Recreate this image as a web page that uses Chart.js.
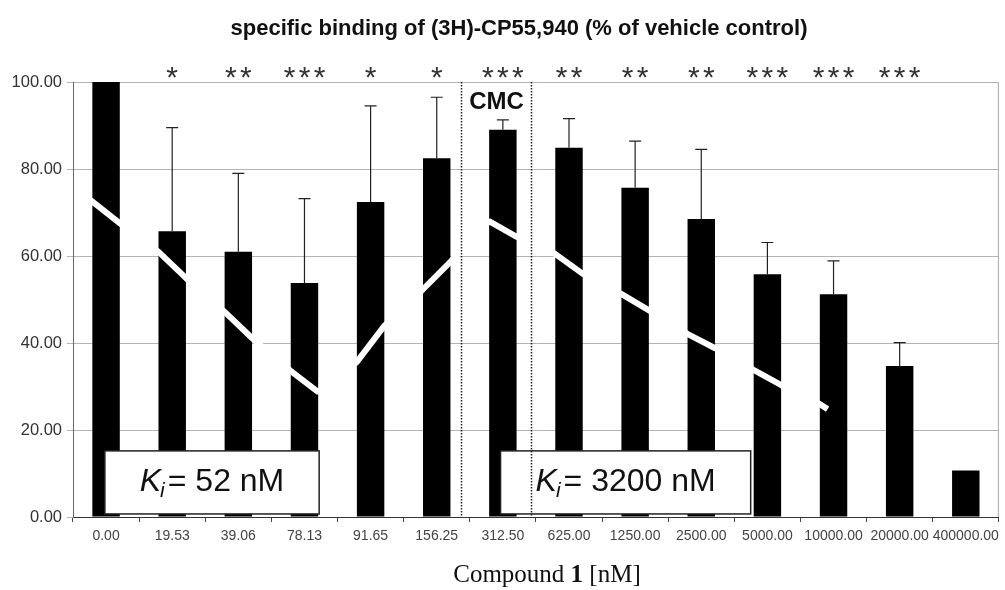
<!DOCTYPE html>
<html>
<head>
<meta charset="utf-8">
<script src="https://cdn.jsdelivr.net/npm/chart.js@4.4.0/dist/chart.umd.min.js"></script>
<style>
  html, body { margin: 0; padding: 0; background: #fff; }
</style>
</head>
<body>
<canvas id="myChart" width="1005" height="590"></canvas>
<script>
// concentrations of compound 1 [nM]
const doses = ['0.00', '19.53', '39.06', '78.13', '91.65', '156.25', '312.50', '625.00',
  '1250.00', '2500.00', '5000.00', '10000.00', '20000.00', '400000.00']
// specific binding, % of vehicle control
const binding = [100, 65.7, 61.0, 53.8, 72.4, 82.5, 89.0, 84.9, 75.7, 68.5, 55.8, 51.2, 34.7, 10.7]
// top of the error bar (mean + SD)
const errorTop = [null, 89.5, 79.0, 73.2, 94.5, 96.5, 91.3, 91.6, 86.4, 84.5, 63.1, 58.9, 40.1, null]
const stars = ['', '*', '**', '***', '*', '*', '***', '**', '**', '**', '***', '***', '***', '']
// white fit line, x in category units
const curveX = [-0.35, 0.21, 0.79, 1.21, 1.79, 2.21, 2.79, 3.21, 3.79, 4.21, 4.79, 5.21,
  5.79, 6.21, 6.79, 7.21, 7.79, 8.21, 8.79, 9.21, 9.79, 10.21, 10.79, 10.91]
const curveY = [74.2, 67.5, 61.0, 54.9, 47.2, 41.1, 33.6, 28.7, 35.6, 44.0, 52.3, 58.7,
  68.0, 64.4, 60.5, 55.9, 51.3, 47.5, 42.1, 38.8, 33.8, 30.3, 26.0, 24.8]

const SANS = 'Liberation Sans, Arial, sans-serif'
const SERIF = 'Liberation Serif, Times New Roman, serif'
Chart.defaults.font.family = SANS

function drawKi(ctx, cx, baseline, rest) {
  ctx.textAlign = 'left'
  ctx.textBaseline = 'alphabetic'
  ctx.fillStyle = '#111'
  ctx.font = 'italic 32px ' + SANS
  let wK = ctx.measureText('K').width
  ctx.font = 'italic 21px ' + SANS
  let wi = ctx.measureText('i').width
  ctx.font = '32px ' + SANS
  let wr = ctx.measureText(rest).width
  let x = cx - (wK + wi + 2 + wr) / 2
  ctx.font = 'italic 32px ' + SANS
  ctx.fillText('K', x, baseline)
  ctx.font = 'italic 21px ' + SANS
  ctx.fillText('i', x + wK - 1, baseline + 6)
  ctx.font = '32px ' + SANS
  ctx.fillText(rest, x + wK + wi + 2, baseline)
}

const extras = {
  id: 'extras',
  afterDatasetsDraw(chart) {
    let ctx = chart.ctx
    let area = chart.chartArea
    let y = chart.scales.y
    let xl = chart.scales.xl
    let bars = chart.getDatasetMeta(0).data
    ctx.save()

    // error bars
    ctx.strokeStyle = '#222'
    ctx.lineWidth = 1.2
    bars.forEach((bar, i) => {
      if (errorTop[i] == null) return
      let yt = y.getPixelForValue(errorTop[i])
      ctx.beginPath()
      ctx.moveTo(bar.x, bar.y)
      ctx.lineTo(bar.x, yt)
      ctx.moveTo(bar.x - 6, yt)
      ctx.lineTo(bar.x + 6, yt)
      ctx.stroke()
    })

    // Ki boxes
    let boxes = [[-0.018, 3.222, '= 52 nM'], [5.965, 9.747, '= 3200 nM']]
    boxes.forEach(b => {
      let x0 = xl.getPixelForValue(b[0])
      let x1 = xl.getPixelForValue(b[1])
      let y0 = y.getPixelForValue(15.2)
      let y1 = y.getPixelForValue(0.7)
      ctx.fillStyle = '#fff'
      ctx.fillRect(x0, y0, x1 - x0, y1 - y0)
      ctx.strokeStyle = '#222'
      ctx.lineWidth = 1.5
      ctx.strokeRect(x0, y0, x1 - x0, y1 - y0)
      drawKi(ctx, (x0 + x1) / 2, 491, b[2])
    })

    // CMC region
    ctx.strokeStyle = '#222'
    ctx.lineWidth = 1.5
    ctx.setLineDash([1.5, 1.5])
    ;[5.37, 6.427].forEach(v => {
      let px = Math.round(xl.getPixelForValue(v)) + 0.5
      ctx.beginPath()
      ctx.moveTo(px, area.top)
      ctx.lineTo(px, area.bottom)
      ctx.stroke()
    })
    ctx.setLineDash([])
    ctx.fillStyle = '#111'
    ctx.font = 'bold 24px ' + SANS
    ctx.textAlign = 'center'
    ctx.textBaseline = 'middle'
    ctx.fillText('CMC', xl.getPixelForValue(5.905), y.getPixelForValue(95.4))

    // significance stars
    ctx.fillStyle = '#333'
    ctx.font = '30px ' + SANS
    ctx.textBaseline = 'alphabetic'
    stars.forEach((s, i) => {
      let cx = xl.getPixelForValue(i)
      for (let k = 0; k < s.length; k++) {
        ctx.fillText('*', cx + (k - (s.length - 1) / 2) * 15, 87)
      }
    })

    // right border of the plot area
    ctx.strokeStyle = '#aaa'
    ctx.lineWidth = 1
    ctx.beginPath()
    ctx.moveTo(area.right - 0.5, area.top)
    ctx.lineTo(area.right - 0.5, area.bottom)
    ctx.stroke()

    // title
    ctx.fillStyle = '#111'
    ctx.font = 'bold 22px ' + SANS
    ctx.textAlign = 'center'
    ctx.textBaseline = 'middle'
    ctx.fillText('specific binding of (3H)-CP55,940 (% of vehicle control)', 519, 29)

    // x axis title, with bold compound number
    ctx.textBaseline = 'alphabetic'
    ctx.textAlign = 'left'
    let parts = [['Compound ', '25px '], ['1', 'bold 25px '], [' [nM]', '25px ']]
    let total = 0
    parts.forEach(p => { ctx.font = p[1] + SERIF; total += ctx.measureText(p[0]).width })
    let tx = 547 - total / 2
    parts.forEach(p => {
      ctx.font = p[1] + SERIF
      ctx.fillText(p[0], tx, 582)
      tx += ctx.measureText(p[0]).width
    })
    ctx.restore()
  }
}

let ctx = document.querySelector('#myChart').getContext('2d')
let myChart = new Chart(ctx, {
  type: 'bar',
  data: {
    labels: doses,
    datasets: [{
      data: binding,
      backgroundColor: '#000',
      barPercentage: 0.415,
      categoryPercentage: 1,
      grouped: false,
      order: 2
    }, {
      type: 'line',
      xAxisID: 'xl',
      data: curveX.map((x, i) => ({x: x, y: curveY[i]})),
      borderColor: '#fff',
      borderWidth: 6,
      borderCapStyle: 'butt',
      borderJoinStyle: 'bevel',
      pointRadius: 0,
      tension: 0,
      order: 1
    }]
  },
  options: {
    responsive: false,
    animation: false,
    layout: {padding: {top: 82, right: 3, left: 0, bottom: 0}},
    plugins: {legend: {display: false}, tooltip: {enabled: false}},
    scales: {
      x: {
        offset: true,
        grid: {offset: true, drawOnChartArea: false, drawTicks: true, tickLength: 5, color: '#444'},
        border: {color: '#333', width: 1},
        ticks: {autoSkip: false, maxRotation: 0, color: '#444', font: {size: 14}, padding: 6},
        afterFit: s => { s.height = 73 }
      },
      xl: {type: 'linear', min: -0.5, max: 13.5, offset: false, display: false, grid: {offset: false}},
      y: {
        min: 0,
        max: 100,
        ticks: {stepSize: 20, color: '#333', font: {size: 16.5}, padding: 5, callback: v => v.toFixed(2)},
        grid: {color: '#b4b4b4', tickLength: 6},
        border: {color: '#666', width: 1},
        afterFit: s => { s.width = 73 }
      }
    }
  },
  plugins: [extras]
})
</script>
</body>
</html>
